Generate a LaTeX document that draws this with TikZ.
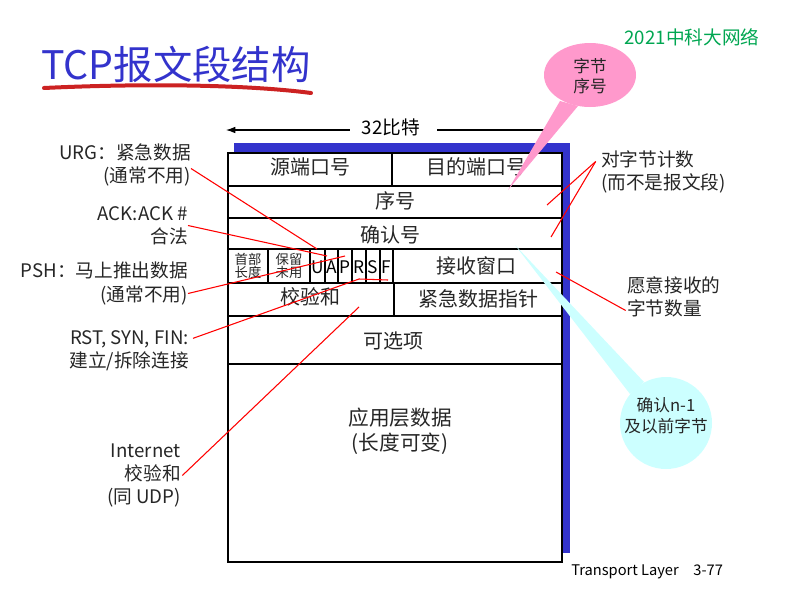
\documentclass[tikz,border=0pt]{standalone}
\usepackage{fontspec}
\setmainfont{Noto Sans CJK SC}
\usetikzlibrary{arrows.meta}
\definecolor{titleblue}{HTML}{3333CC}
\definecolor{titlered}{HTML}{CC2222}
\definecolor{shadowblue}{HTML}{3333CC}
\definecolor{brandgreen}{HTML}{00A651}
\definecolor{calloutpink}{HTML}{FF99CC}
\definecolor{calloutcyan}{HTML}{CCFFFF}
\tikzset{
  field/.style={font=\fontsize{15}{18}\selectfont, text=black!85, inner sep=0pt},
  smallfield/.style={font=\fontsize{10}{12}\selectfont, text=black!85, align=center, inner sep=0pt},
  flag/.style={font=\fontsize{13}{15}\selectfont, text=black, inner sep=0pt},
  lnote/.style={font=\fontsize{14}{17.3}\selectfont, text=black!85, align=right, anchor=east, inner sep=0pt},
  rnote/.style={font=\fontsize{14}{17.3}\selectfont, text=black!85, align=left, anchor=west, inner sep=0pt},
  callout/.style={font=\fontsize{12.5}{15.5}\selectfont, text=black!85, align=center, inner sep=0pt},
  pointer/.style={red, line width=0.8pt}
}
\begin{document}
\begin{tikzpicture}[x=0.75pt,y=-0.75pt]
  \useasboundingbox (0,0) rectangle (799,603);

  % Title
  \node[anchor=west, inner sep=0pt, text=titleblue, font=\fontsize{29.5}{32}\selectfont] (title) at (41,64) {TCP报文段结构};
  \draw[titlered, line width=3pt, line cap=round] (44,88) .. controls (150,83) and (250,85) .. (311,93);
  \node[inner sep=0pt, text=brandgreen, font=\fontsize{14}{16}\selectfont] (brand) at (692,37) {2021中科大网络};

  % Width
  \node[inner sep=0pt, font=\fontsize{14}{16}\selectfont] (width) at (391,127) {32比特};
  \coordinate (wleft) at (226,130);
  \coordinate (wright) at (556,130);
  \draw[-{Latex[length=7pt,width=5pt]}, line width=0.8pt] (width.west) ++(-12,3) -- (wleft);
  \draw[line width=0.8pt] (width.east) ++(17,3) -- (wright);

  % Segment
  \fill[shadowblue] (234,143) rectangle (570,553);
  \draw[fill=white, line width=1pt] (228,153) rectangle (562,562);
  \draw[line width=1pt] (228,186) -- (562,186);
  \draw[line width=1pt] (228,218) -- (562,218);
  \draw[line width=1.8pt] (228,249) -- (563,249);
  \draw[line width=1pt] (228,283) -- (562,283);
  \draw[line width=1pt] (228,316) -- (562,316);
  \draw[line width=1pt] (228,364) -- (562,364);
  \draw[line width=1pt] (392,153) -- (392,186);
  \draw[line width=1pt] (394,283) -- (394,316);
  \foreach \x in {268,310,325,338,352,366,380,393}
    \draw[line width=1pt] (\x,249) -- (\x,283);

  % Fields
  \node[field] (srcport) at (310,167) {源端口号};
  \node[field] (dstport) at (476,167) {目的端口号};
  \node[field] (seq) at (395,201) {序号};
  \node[field] (acknum) at (390,235) {确认号};
  \node[smallfield] (hlen) at (248,266) {首部\\[-2pt]长度};
  \node[smallfield] (resv) at (289,266) {保留\\[-2pt]未用};
  \foreach \f/\x in {U/317.5,A/331.5,P/345,R/359,S/373,F/386.5}
    \node[flag] (flag\f) at (\x,267) {\f};
  \node[field] (rwnd) at (476,266) {接收窗口};
  \node[field] (csum) at (310,297) {校验和};
  \node[field] (urgptr) at (478,299) {紧急数据指针};
  \node[field] (options) at (393,341) {可选项};
  \node[field, align=center, font=\fontsize{15.5}{19}\selectfont] (data) at (400,431) {应用层数据\\(长度可变)};

  % Left notes
  \node[lnote] (urg) at (191,164.5) {URG：紧急数据\\(通常不用)};
  \node[lnote] (ack) at (188,225.5) {ACK:ACK \#\\合法};
  \node[lnote] (psh) at (188,283.5) {PSH：马上推出数据\\(通常不用)};
  \node[lnote] (rst) at (189,351) {RST, SYN, FIN:\\建立/拆除连接};
  \node[lnote] (inet) at (181,475.5) {Internet\\校验和\\(同 UDP)};

  % Right notes
  \node[rnote] (count) at (601,171.5) {对字节计数\\(而不是报文段)};
  \node[rnote] (recv) at (627,296.5) {愿意接收的\\字节数量};

  % Pointers
  \coordinate (urgend) at (317,249);
  \coordinate (ackend) at (327,256);
  \coordinate (pshend) at (345,256);
  \coordinate (rstbend) at (359,279);
  \coordinate (rstend) at (388,280);
  \coordinate (inetend) at (359,307);
  \coordinate (seqend) at (547,205);
  \coordinate (ackfield) at (551,237);
  \coordinate (rwndend) at (556,272);
  \draw[pointer] ([yshift=-3pt]urg.east) -- (urgend);
  \draw[pointer] (ack.east) -- (ackend);
  \draw[pointer] ([yshift=-7.5pt]psh.east) -- (pshend);
  \draw[pointer] ([xshift=3pt,yshift=9.5pt]rst.east) -- (rstbend) -- (rstend);
  \draw[pointer] ([xshift=1pt]inet.east) -- (inetend);
  \draw[pointer] ([xshift=-4pt,yshift=7.5pt]count.west) -- (seqend);
  \draw[pointer] ([xshift=-4pt,yshift=7.5pt]count.west) -- (ackfield);
  \draw[pointer] ([xshift=-1pt,yshift=-10.5pt]recv.west) -- (rwndend);

  % Callouts
  \fill[calloutpink] (560,101) -- (508,190) -- (578,106) -- cycle;
  \fill[calloutpink] (590,75) ellipse [x radius=46, y radius=32];
  \node[callout] (seqcall) at (590,76) {字节\\序号};
  \fill[calloutcyan] (630,394) -- (515,245) -- (644,382) -- cycle;
  \fill[calloutcyan] (666,423) circle [radius=46];
  \node[callout] (ackcall) at (666,416) {确认n-1\\及以前字节};

  % Footer
  \node[anchor=west, inner sep=0pt, font=\fontsize{11}{13}\selectfont] (footer) at (571,572) {Transport Layer\quad 3-77};
\end{tikzpicture}
\end{document}
